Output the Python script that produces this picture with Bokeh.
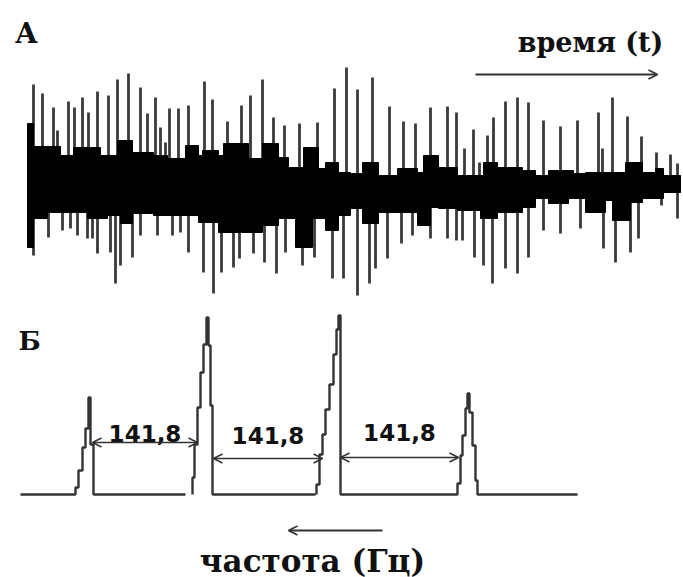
import math
from bokeh.plotting import figure
from bokeh.layouts import column
from bokeh.models import Range1d, Arrow, OpenHead, Label, ColumnDataSource
from bokeh.core.properties import value
from bokeh.embed import file_html
from bokeh.resources import INLINE

# ---------------- Panel A: signal in time (arbitrary units) ----------------
spike_up_t = [33, 42, 53, 57, 68, 74, 82, 88, 97, 108, 117, 128, 140, 147, 155, 160, 165, 169, 178, 188,
              204, 212, 227, 241, 250, 262, 273, 284, 299, 317, 334, 346, 357, 372, 389, 403, 415, 430, 447, 456,
              464, 473, 479, 487, 493, 505, 517, 528, 543, 560, 577, 598, 602, 612, 627, 641, 656, 670, 677]
spike_up_a = [101, 92, 78, 55, 84, 78, 88, 73, 94, 90, 106, 112, 98, 72, 88, 58, 43, 77, 77, 80,
              104, 86, 64, 80, 90, 106, 68, 60, 62, 63, 97, 118, 96, 108, 79, 64, 62, 78, 79, 73,
              37, 56, 23, 50, 68, 84, 88, 83, 65, 59, 65, 73, 37, 88, 69, 49, 33, 31, 22]
spike_dn_t = [33, 48, 62, 70, 77, 87, 92, 97, 110, 115, 120, 132, 140, 157, 172, 180, 188, 203, 213, 221,
              233, 239, 253, 264, 276, 285, 302, 314, 332, 343, 357, 369, 375, 387, 401, 412, 430, 447, 456, 462,
              474, 483, 492, 505, 517, 528, 543, 560, 580, 603, 615, 630, 638, 661, 677]
spike_dn_a = [-70, -52, -45, -43, -50, -53, -53, -68, -67, -98, -80, -72, -50, -50, -50, -47, -67, -87, -108, -87,
              -82, -73, -68, -77, -88, -67, -80, -72, -93, -93, -110, -98, -83, -73, -58, -50, -53, -53, -55, -55,
              -72, -80, -98, -83, -88, -72, -45, -48, -43, -63, -77, -67, -53, -20, -33]

band_t0 = [27, 33, 47, 60, 73, 87, 100, 107, 117, 120, 132, 153, 167, 185, 198, 202, 218, 223, 248, 262,
           278, 288, 295, 303, 312, 318, 325, 338, 350, 362, 378, 397, 417, 423, 430, 438, 457, 480, 483, 497,
           522, 535, 548, 568, 573, 585, 605, 612, 625, 630, 642, 655, 663]
band_t1 = band_t0[1:] + [680]
band_hi = [62, 39, 39, 30, 38, 38, 30, 30, 45, 45, 33, 30, 27, 40, 30, 35, 30, 42, 27, 42,
           28, 18, 18, 38, 38, 17, 23, 13, 12, 23, 10, 17, 13, 30, 30, 18, 10, 10, 23, 18,
           15, 10, 15, 15, 12, 13, 13, 13, 23, 23, 13, 17, 10]
band_lo = [-62, -33, -27, -27, -27, -33, -33, -30, -30, -38, -28, -30, -30, -30, -37, -37, -47, -47, -47, -40,
           -33, -33, -62, -62, -33, -33, -45, -30, -23, -38, -27, -27, -40, -40, -22, -23, -25, -33, -33, -27,
           -22, -13, -18, -13, -13, -27, -15, -35, -35, -17, -13, -13, -7]

# ---------------- Panel B: spectrum (arbitrary units) ----------------
spec_f = [20, 75, 75, 78, 78, 82, 82, 85, 85, 88, 88, 90, 90, 93, 93, 185, None,
          192, 192, 194, 194, 197, 197, 200, 200, 203, 203, 206, 206, 208, 208, 210, 210, 212, 212, 315, None,
          316, 316, 319, 319, 322, 322, 325, 325, 329, 329, 333, 333, 336, 336, 338, 338, 340, 340, 457,
          457, 460, 460, 462, 462, 465, 465, 467, 467, 469, 469, 472, 472, 475, 475, 477, 477, 577]
spec_a = [0, 0, 7, 7, 24, 24, 47, 47, 66, 66, 97, 97, 50, 50, 0, 0, None,
          0, 17, 17, 50, 50, 87, 87, 122, 122, 150, 150, 177, 177, 149, 149, 89, 89, 0, 0, None,
          0, 10, 10, 40, 40, 60, 60, 85, 85, 110, 110, 140, 140, 165, 165, 179, 179, 0, 0,
          11, 11, 39, 39, 59, 59, 86, 86, 101, 101, 82, 82, 49, 49, 14, 14, 0, 0]

gap_from = [92, 213, 340]
gap_to = [197, 322, 458]
gap_level = [52, 36, 37]
gap_label_level = [61, 59, 62]
gap_label = ["141,8", "141,8", "141,8"]

SERIF = "DejaVu Serif"
INK = "#111111"
LINE = "#333333"


def bare(fig):
    fig.grid.visible = False
    fig.outline_line_color = None
    fig.background_fill_color = "white"
    fig.border_fill_color = "white"
    return fig


# ---------- top figure ----------
pa = bare(figure(width=683, height=300, x_range=Range1d(0, 683), y_range=Range1d(-115, 185),
                 output_backend="svg", toolbar_location=None, min_border=0,
                 x_axis_location=None, y_axis_location=None))

up = ColumnDataSource(dict(t=spike_up_t, a=spike_up_a, z=[0] * len(spike_up_t)))
dn = ColumnDataSource(dict(t=spike_dn_t, a=spike_dn_a, z=[0] * len(spike_dn_t)))
pa.segment(x0="t", y0="z", x1="t", y1="a", source=up, line_color="#3a3a3a", line_width=2.8)
pa.segment(x0="t", y0="z", x1="t", y1="a", source=dn, line_color="#3a3a3a", line_width=2.8)
band = ColumnDataSource(dict(l=band_t0, r=band_t1, top=band_hi, bottom=band_lo))
pa.quad(left="l", right="r", top="top", bottom="bottom", source=band,
        fill_color="black", line_color="black", line_width=1, line_join="round")

pa.add_layout(Label(x=26, y=152, text="А", text_font=SERIF, text_font_style="bold",
                    text_font_size="28px", text_color=INK, text_align="center", text_baseline="middle"))
pa.add_layout(Label(x=590, y=143, text="время (t)", text_font=SERIF, text_font_style="bold",
                    text_font_size="27px", text_color=INK, text_align="center", text_baseline="middle"))
pa.add_layout(Arrow(end=OpenHead(size=9, line_width=1.6, line_color=LINE), x_start=475, y_start=111,
                    x_end=657, y_end=111, line_width=1.8, line_color=LINE))

# ---------- bottom figure ----------
pb = bare(figure(width=683, height=277, x_range=Range1d(0, 683), y_range=Range1d(-83, 194),
                 output_backend="svg", toolbar_location=None, min_border=0,
                 x_axis_location=None, y_axis_location=None))

sf = [math.nan if v is None else v for v in spec_f]
sa = [math.nan if v is None else v for v in spec_a]
pb.line(sf, sa, line_color=LINE, line_width=2.4)

gaps = ColumnDataSource(dict(x0=gap_from, x1=gap_to, y=gap_level,
                             xm=[(a + b) / 2 for a, b in zip(gap_from, gap_to)],
                             yl=gap_label_level, lab=gap_label))
pb.add_layout(Arrow(start=OpenHead(size=9, line_width=1.4, line_color=LINE),
                    end=OpenHead(size=9, line_width=1.4, line_color=LINE),
                    x_start="x0", y_start="y", x_end="x1", y_end="y", source=gaps,
                    line_width=1.5, line_color=LINE))
pb.text(x="xm", y="yl", text="lab", source=gaps, text_font=value("DejaVu Sans"),
        text_font_style="bold", text_font_size="23px", text_color=INK,
        text_align="center", text_baseline="middle")

pb.add_layout(Label(x=29, y=154, text="Б", text_font=SERIF, text_font_style="bold",
                    text_font_size="26px", text_color=INK, text_align="center", text_baseline="middle"))
pb.add_layout(Arrow(end=OpenHead(size=9, line_width=1.6, line_color=LINE), x_start=382, y_start=-36,
                    x_end=288, y_end=-36, line_width=1.8, line_color=LINE))
pb.add_layout(Label(x=312, y=-66, text="частота (Гц)", text_font=SERIF, text_font_style="bold",
                    text_font_size="31px", text_color=INK, text_align="center", text_baseline="middle"))

layout = column(pa, pb, spacing=0)
open("out.html", "w").write(file_html(layout, INLINE))
